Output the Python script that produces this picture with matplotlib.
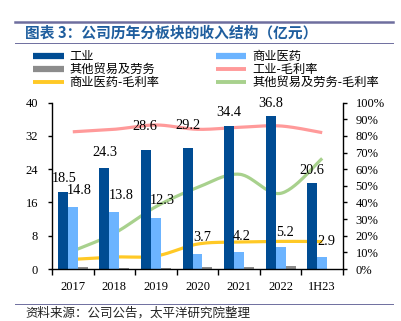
import numpy as np
import matplotlib
matplotlib.use("Agg")
import matplotlib.pyplot as plt
from matplotlib.lines import Line2D

# Revenue by segment (100 million yuan) and gross margins (%)
categories = ["2017", "2018", "2019", "2020", "2021", "2022", "1H23"]
industrial = [18.5, 24.3, 28.6, 29.2, 34.4, 36.8, 20.6]
commercial = [14.8, 13.8, 12.3, 3.7, 4.2, 5.2, 2.9]
other = [0.4, 0.2, 0.3, 0.5, 0.6, 0.7, 0.1]
industrial_margin = [82.5, 84.0, 86.6, 84.0, 85.2, 86.0, 82.0]
commercial_margin = [5.8, 7.2, 7.8, 15.0, 16.2, 16.6, 16.5]
other_margin = [10.8, 21.5, 37.5, 49.0, 57.0, 45.5, 66.5]

left_ticks = [0, 8, 16, 24, 32, 40]
right_ticks = list(range(0, 101, 10))

C_IND = "#004C93"
C_COM = "#6CB4FF"
C_OTH = "#8C8C8C"
C_IND_M = "#FF9A9A"
C_COM_M = "#FFC926"
C_OTH_M = "#A8D18D"
C_TITLE = "#1F5E9E"
C_RULE = "#6E6E9E"

SERIF = "Liberation Serif"
CJK = ["Noto Sans CJK SC", "DejaVu Sans"]


def smooth(xs, ys, n=30):
    """Bezier smoothing through the points (spreadsheet-style curve)."""
    xs = np.asarray(xs, float)
    ys = np.asarray(ys, float)
    px = np.concatenate([[xs[0]], xs, [xs[-1]]])
    py = np.concatenate([[ys[0]], ys, [ys[-1]]])
    ox, oy = [], []
    t = np.linspace(0, 1, n)
    for i in range(1, len(px) - 2):
        p0 = np.array([px[i], py[i]])
        p3 = np.array([px[i + 1], py[i + 1]])
        c1 = p0 + (np.array([px[i + 1], py[i + 1]]) - np.array([px[i - 1], py[i - 1]])) / 6
        c2 = p3 - (np.array([px[i + 2], py[i + 2]]) - np.array([px[i], py[i]])) / 6
        b = ((1 - t) ** 3)[:, None] * p0 + (3 * (1 - t) ** 2 * t)[:, None] * c1 \
            + (3 * (1 - t) * t ** 2)[:, None] * c2 + (t ** 3)[:, None] * p3
        ox.extend(b[:, 0])
        oy.extend(b[:, 1])
    return np.array(ox), np.array(oy)


fig = plt.figure(figsize=(4.02, 3.21), dpi=100)
W, H = 402, 321

ax = fig.add_axes([52 / W, 1 - 269 / H, 291 / W, 166.3 / H])
ax2 = ax.twinx()

x = np.arange(len(categories))
bw = 0.24
ax.bar(x - bw, industrial, bw, color=C_IND, zorder=2)
ax.bar(x, commercial, bw, color=C_COM, zorder=2)
ax.bar(x + bw, other, bw, color=C_OTH, zorder=2)

for ys, c in [(industrial_margin, C_IND_M), (commercial_margin, C_COM_M), (other_margin, C_OTH_M)]:
    sx, sy = smooth(x, ys)
    ax2.plot(sx, sy, color=c, lw=2.3, solid_capstyle="butt", zorder=3)

# value labels (offsets in pixels)
ind_off = [(1, 14), (0, 15), (-1, 24), (0, 22), (0, 13), (0, 13), (0, 13)]
com_off = [(6.5, 17), (7, 16), (6, 17), (5, 16), (3, 15), (4, 15), (4.5, 15)]
px2pt = 72 / 100
for i, v in enumerate(industrial):
    ax.annotate(f"{v:.1f}", (x[i] - bw, v), xytext=(ind_off[i][0] * px2pt, ind_off[i][1] * px2pt),
                textcoords="offset points", ha="center", va="center",
                fontsize=10.3, family=SERIF, zorder=5)
for i, v in enumerate(commercial):
    ax.annotate(f"{v:.1f}", (x[i], v), xytext=(com_off[i][0] * px2pt, com_off[i][1] * px2pt),
                textcoords="offset points", ha="center", va="center",
                fontsize=10.3, family=SERIF, zorder=5)
ax.set_zorder(ax2.get_zorder() + 1)
ax.patch.set_visible(False)

ax.set_xlim(-0.5, len(categories) - 0.5)
ax.set_ylim(0, 40)
ax2.set_ylim(0, 100)
ax.set_yticks(left_ticks)
ax.set_yticklabels([str(t) for t in left_ticks], family=SERIF, fontsize=9)
ax2.set_yticks(right_ticks)
ax2.set_yticklabels([f"{t}%" for t in right_ticks], family=SERIF, fontsize=9)

ax.set_xticks(np.arange(-0.5, len(categories)), minor=False)
ax.set_xticklabels([])
ax.set_xticks(x, minor=True)
ax.set_xticklabels(categories, minor=True, family=SERIF, fontsize=9)
ax.tick_params(axis="x", which="major", length=4, width=1, direction="out")
ax.tick_params(axis="x", which="minor", length=0, pad=9)
ax.tick_params(axis="y", length=3, width=1, direction="out", pad=7)
ax2.tick_params(axis="y", length=3, width=1, direction="out", pad=6)

for a in (ax, ax2):
    a.spines["top"].set_visible(False)
ax.spines["right"].set_visible(False)
ax2.spines["left"].set_visible(False)
ax2.spines["bottom"].set_visible(False)
for s in ("left", "bottom"):
    ax.spines[s].set_linewidth(1)
ax2.spines["right"].set_linewidth(1)

# legend
handles = [
    Line2D([], [], color=C_IND, lw=4.5, solid_capstyle="butt"),
    Line2D([], [], color=C_OTH, lw=4.5, solid_capstyle="butt"),
    Line2D([], [], color=C_COM_M, lw=2.8, solid_capstyle="butt"),
    Line2D([], [], color=C_COM, lw=4.5, solid_capstyle="butt"),
    Line2D([], [], color=C_IND_M, lw=2.8, solid_capstyle="butt"),
    Line2D([], [], color=C_OTH_M, lw=2.8, solid_capstyle="butt"),
]
labels = ["工业", "其他贸易及劳务", "商业医药-毛利率",
          "商业医药", "工业-毛利率", "其他贸易及劳务-毛利率"]
fig.legend(handles, labels, ncol=2, loc="upper left",
           bbox_to_anchor=(33 / W, 1 - 50 / H), frameon=False,
           prop={"family": CJK, "size": 8.8}, handlelength=2.5,
           handletextpad=0.5, columnspacing=4.6, labelspacing=0.0,
           borderpad=0, borderaxespad=0)

# title, rules and source
fig.add_artist(Line2D([15 / W, 393 / W], [1 - 22 / H, 1 - 22 / H], color=C_RULE, lw=1.8))
fig.add_artist(Line2D([15 / W, 393 / W], [1 - 43 / H, 1 - 43 / H], color=C_RULE, lw=0.7))
fig.add_artist(Line2D([15 / W, 393 / W], [1 - 304 / H, 1 - 304 / H], color=C_RULE, lw=0.7))
fig.text(25 / W, 1 - 33 / H, "图表 3：公司历年分板块的收入结构（亿元）", family=CJK,
         fontsize=10.6, fontweight="bold", color=C_TITLE, va="center", ha="left")
fig.text(25 / W, 1 - 313 / H, "资料来源：公司公告，太平洋研究院整理", family=CJK,
         fontsize=9, color="#222222", va="center", ha="left")

fig.savefig("out.png", dpi=100)
